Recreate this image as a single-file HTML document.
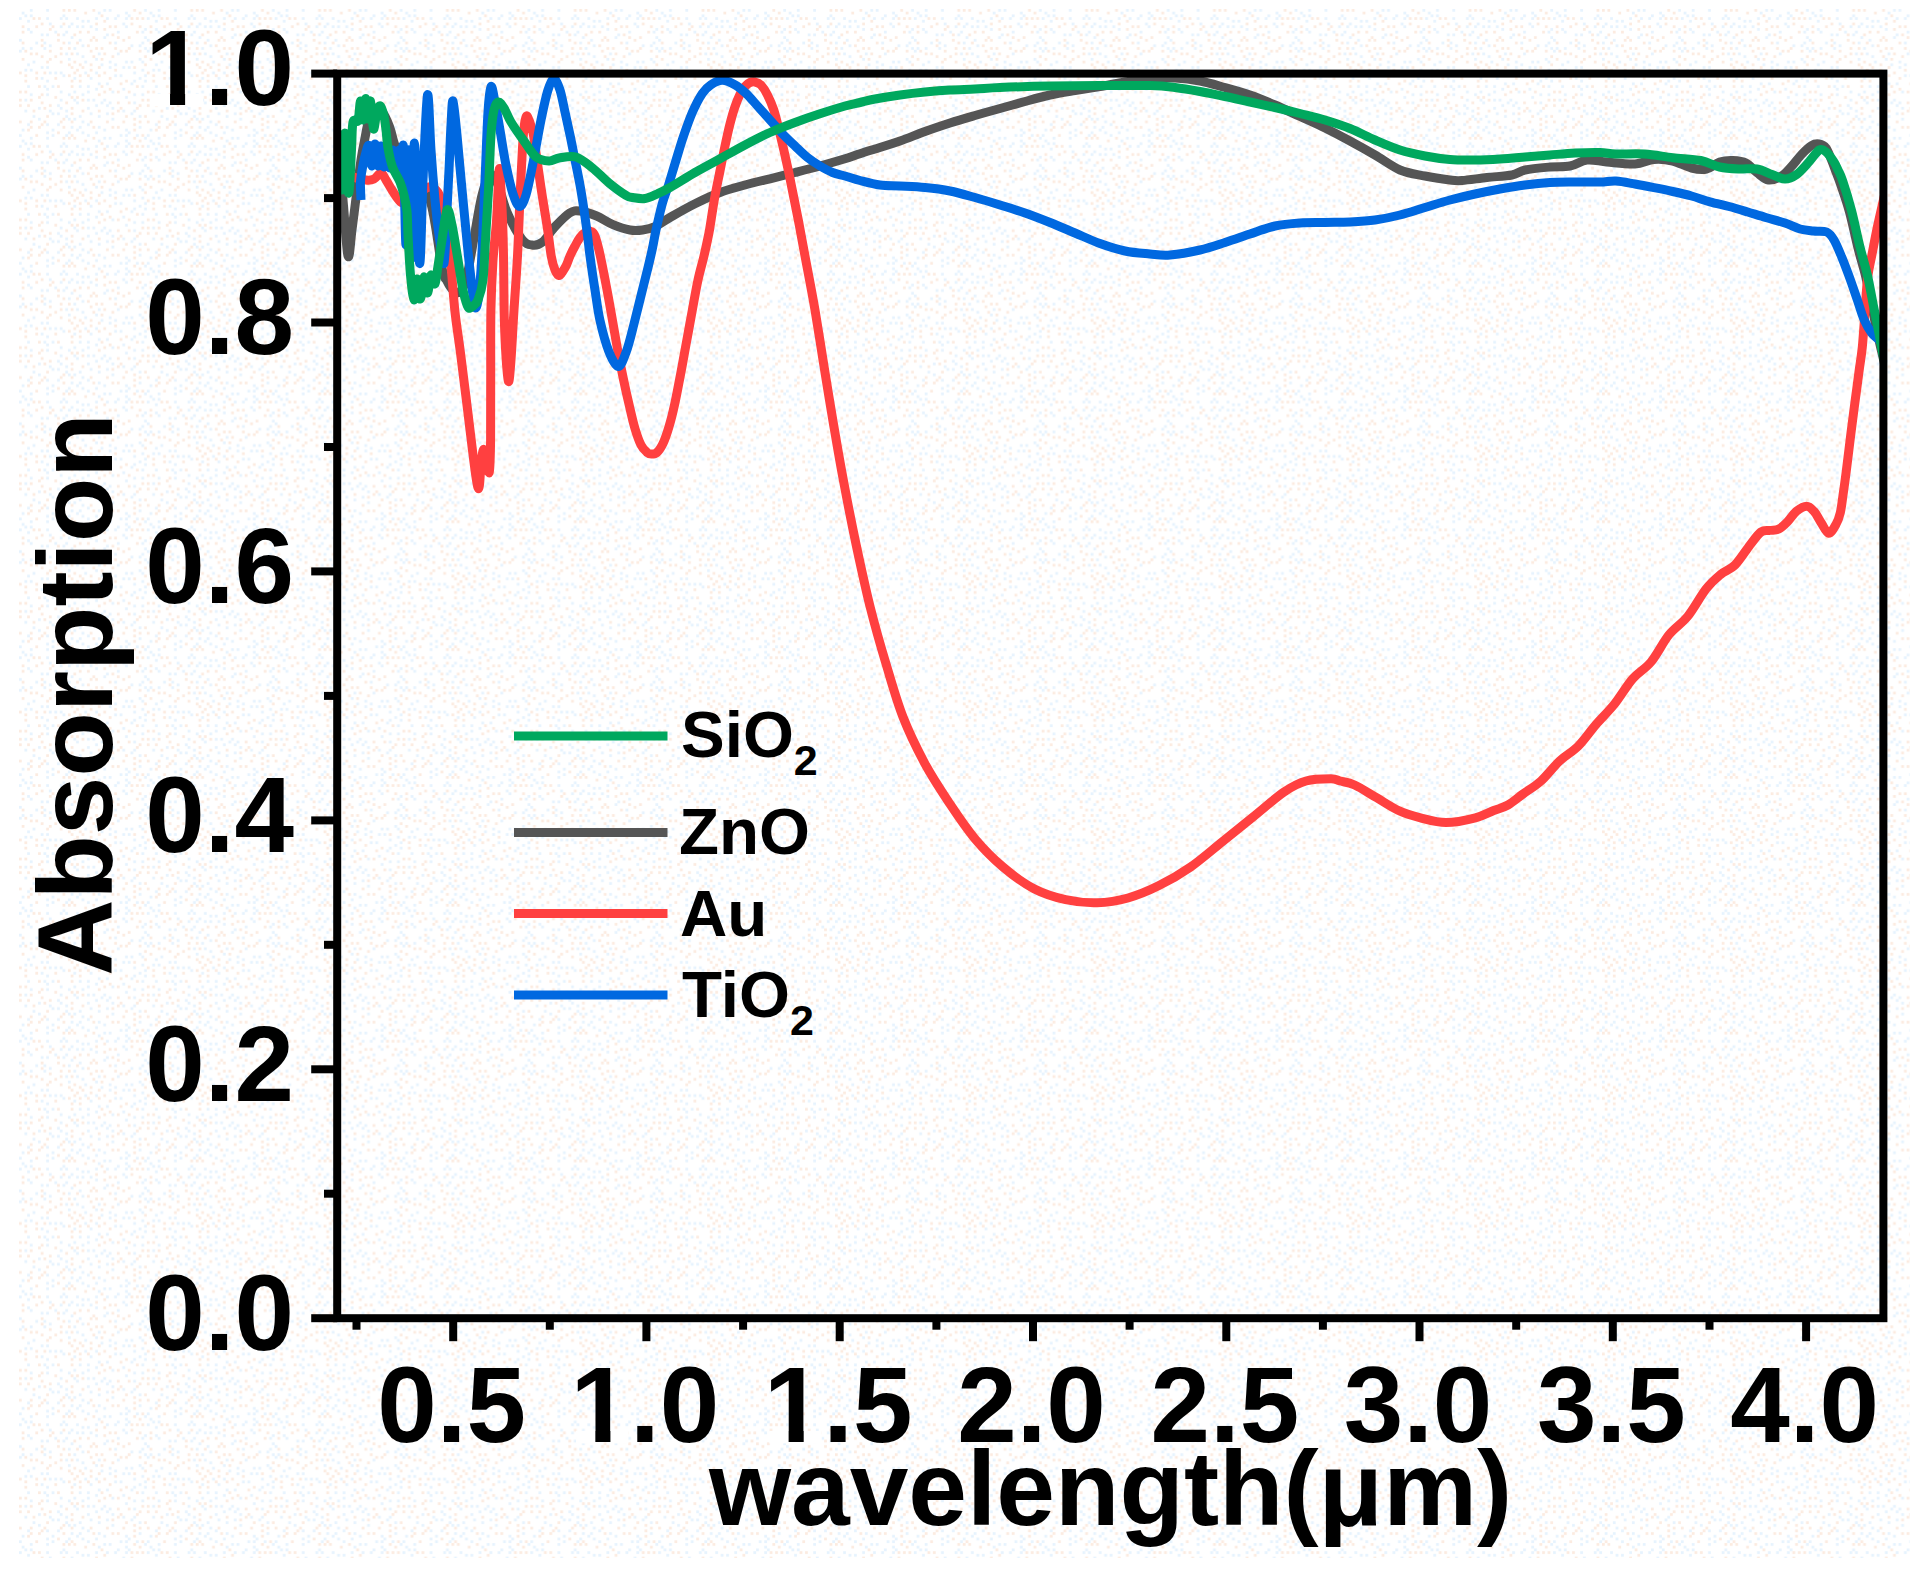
<!DOCTYPE html>
<html lang="en"><head><meta charset="utf-8"><title>Absorption vs wavelength</title>
<style>
html,body{margin:0;padding:0;background:#fff;}
body{width:1920px;height:1571px;overflow:hidden;}
svg{display:block;}
text{font-family:"Liberation Sans",Arial,Helvetica,sans-serif;font-weight:bold;fill:#000;}
.tick{font-size:107px;}
.title{font-size:105.5px;}
.leg{font-size:65.5px;}
.sub{font-size:43px;}
.curve{fill:none;stroke-width:9;stroke-linejoin:round;stroke-linecap:butt;}
</style></head><body>
<svg width="1920" height="1571" viewBox="0 0 1920 1571">
<rect x="0" y="0" width="1920" height="1571" fill="#ffffff"/>
<defs><pattern id="ditherA" patternUnits="userSpaceOnUse" x="19" y="9" width="127.84" height="127.84"><rect width="127.84" height="127.84" fill="#ffffff"/><g fill="#e6f3fe"><rect x="0.00" y="8.16" width="2.72" height="2.72"/><rect x="0.00" y="29.92" width="2.72" height="2.72"/><rect x="0.00" y="40.80" width="2.72" height="2.72"/><rect x="0.00" y="125.12" width="2.72" height="2.72"/><rect x="2.72" y="2.72" width="2.72" height="2.72"/><rect x="2.72" y="38.08" width="2.72" height="2.72"/><rect x="2.72" y="119.68" width="2.72" height="2.72"/><rect x="5.44" y="5.44" width="2.72" height="2.72"/><rect x="5.44" y="59.84" width="2.72" height="2.72"/><rect x="5.44" y="89.76" width="2.72" height="2.72"/><rect x="5.44" y="100.64" width="2.72" height="2.72"/><rect x="8.16" y="10.88" width="2.72" height="2.72"/><rect x="8.16" y="19.04" width="2.72" height="2.72"/><rect x="8.16" y="54.40" width="2.72" height="2.72"/><rect x="8.16" y="76.16" width="2.72" height="2.72"/><rect x="8.16" y="114.24" width="2.72" height="2.72"/><rect x="10.88" y="0.00" width="2.72" height="2.72"/><rect x="10.88" y="5.44" width="2.72" height="2.72"/><rect x="10.88" y="21.76" width="2.72" height="2.72"/><rect x="10.88" y="38.08" width="2.72" height="2.72"/><rect x="10.88" y="59.84" width="2.72" height="2.72"/><rect x="10.88" y="84.32" width="2.72" height="2.72"/><rect x="13.60" y="51.68" width="2.72" height="2.72"/><rect x="13.60" y="106.08" width="2.72" height="2.72"/><rect x="16.32" y="32.64" width="2.72" height="2.72"/><rect x="19.04" y="97.92" width="2.72" height="2.72"/><rect x="19.04" y="108.80" width="2.72" height="2.72"/><rect x="21.76" y="24.48" width="2.72" height="2.72"/><rect x="21.76" y="57.12" width="2.72" height="2.72"/><rect x="21.76" y="68.00" width="2.72" height="2.72"/><rect x="24.48" y="32.64" width="2.72" height="2.72"/><rect x="24.48" y="38.08" width="2.72" height="2.72"/><rect x="24.48" y="76.16" width="2.72" height="2.72"/><rect x="27.20" y="0.00" width="2.72" height="2.72"/><rect x="27.20" y="8.16" width="2.72" height="2.72"/><rect x="27.20" y="24.48" width="2.72" height="2.72"/><rect x="27.20" y="57.12" width="2.72" height="2.72"/><rect x="27.20" y="70.72" width="2.72" height="2.72"/><rect x="27.20" y="78.88" width="2.72" height="2.72"/><rect x="27.20" y="84.32" width="2.72" height="2.72"/><rect x="27.20" y="114.24" width="2.72" height="2.72"/><rect x="27.20" y="122.40" width="2.72" height="2.72"/><rect x="29.92" y="13.60" width="2.72" height="2.72"/><rect x="29.92" y="35.36" width="2.72" height="2.72"/><rect x="29.92" y="62.56" width="2.72" height="2.72"/><rect x="29.92" y="100.64" width="2.72" height="2.72"/><rect x="32.64" y="76.16" width="2.72" height="2.72"/><rect x="32.64" y="103.36" width="2.72" height="2.72"/><rect x="32.64" y="119.68" width="2.72" height="2.72"/><rect x="32.64" y="125.12" width="2.72" height="2.72"/><rect x="35.36" y="21.76" width="2.72" height="2.72"/><rect x="35.36" y="62.56" width="2.72" height="2.72"/><rect x="38.08" y="95.20" width="2.72" height="2.72"/><rect x="38.08" y="103.36" width="2.72" height="2.72"/><rect x="38.08" y="114.24" width="2.72" height="2.72"/><rect x="40.80" y="8.16" width="2.72" height="2.72"/><rect x="40.80" y="16.32" width="2.72" height="2.72"/><rect x="40.80" y="62.56" width="2.72" height="2.72"/><rect x="40.80" y="81.60" width="2.72" height="2.72"/><rect x="40.80" y="89.76" width="2.72" height="2.72"/><rect x="40.80" y="97.92" width="2.72" height="2.72"/><rect x="43.52" y="5.44" width="2.72" height="2.72"/><rect x="43.52" y="24.48" width="2.72" height="2.72"/><rect x="43.52" y="65.28" width="2.72" height="2.72"/><rect x="46.24" y="8.16" width="2.72" height="2.72"/><rect x="46.24" y="21.76" width="2.72" height="2.72"/><rect x="46.24" y="43.52" width="2.72" height="2.72"/><rect x="46.24" y="100.64" width="2.72" height="2.72"/><rect x="46.24" y="106.08" width="2.72" height="2.72"/><rect x="46.24" y="125.12" width="2.72" height="2.72"/><rect x="48.96" y="16.32" width="2.72" height="2.72"/><rect x="48.96" y="32.64" width="2.72" height="2.72"/><rect x="48.96" y="48.96" width="2.72" height="2.72"/><rect x="48.96" y="84.32" width="2.72" height="2.72"/><rect x="48.96" y="108.80" width="2.72" height="2.72"/><rect x="48.96" y="122.40" width="2.72" height="2.72"/><rect x="51.68" y="13.60" width="2.72" height="2.72"/><rect x="51.68" y="27.20" width="2.72" height="2.72"/><rect x="51.68" y="116.96" width="2.72" height="2.72"/><rect x="54.40" y="38.08" width="2.72" height="2.72"/><rect x="54.40" y="68.00" width="2.72" height="2.72"/><rect x="54.40" y="81.60" width="2.72" height="2.72"/><rect x="54.40" y="89.76" width="2.72" height="2.72"/><rect x="54.40" y="108.80" width="2.72" height="2.72"/><rect x="57.12" y="8.16" width="2.72" height="2.72"/><rect x="57.12" y="16.32" width="2.72" height="2.72"/><rect x="57.12" y="43.52" width="2.72" height="2.72"/><rect x="57.12" y="92.48" width="2.72" height="2.72"/><rect x="57.12" y="119.68" width="2.72" height="2.72"/><rect x="59.84" y="29.92" width="2.72" height="2.72"/><rect x="59.84" y="76.16" width="2.72" height="2.72"/><rect x="59.84" y="106.08" width="2.72" height="2.72"/><rect x="59.84" y="116.96" width="2.72" height="2.72"/><rect x="62.56" y="10.88" width="2.72" height="2.72"/><rect x="62.56" y="16.32" width="2.72" height="2.72"/><rect x="62.56" y="35.36" width="2.72" height="2.72"/><rect x="62.56" y="46.24" width="2.72" height="2.72"/><rect x="62.56" y="84.32" width="2.72" height="2.72"/><rect x="62.56" y="111.52" width="2.72" height="2.72"/><rect x="62.56" y="122.40" width="2.72" height="2.72"/><rect x="65.28" y="51.68" width="2.72" height="2.72"/><rect x="65.28" y="62.56" width="2.72" height="2.72"/><rect x="68.00" y="10.88" width="2.72" height="2.72"/><rect x="68.00" y="76.16" width="2.72" height="2.72"/><rect x="68.00" y="81.60" width="2.72" height="2.72"/><rect x="68.00" y="89.76" width="2.72" height="2.72"/><rect x="68.00" y="97.92" width="2.72" height="2.72"/><rect x="68.00" y="114.24" width="2.72" height="2.72"/><rect x="68.00" y="125.12" width="2.72" height="2.72"/><rect x="70.72" y="16.32" width="2.72" height="2.72"/><rect x="70.72" y="68.00" width="2.72" height="2.72"/><rect x="70.72" y="103.36" width="2.72" height="2.72"/><rect x="73.44" y="89.76" width="2.72" height="2.72"/><rect x="76.16" y="8.16" width="2.72" height="2.72"/><rect x="76.16" y="19.04" width="2.72" height="2.72"/><rect x="76.16" y="48.96" width="2.72" height="2.72"/><rect x="76.16" y="62.56" width="2.72" height="2.72"/><rect x="76.16" y="78.88" width="2.72" height="2.72"/><rect x="76.16" y="95.20" width="2.72" height="2.72"/><rect x="76.16" y="122.40" width="2.72" height="2.72"/><rect x="78.88" y="2.72" width="2.72" height="2.72"/><rect x="78.88" y="43.52" width="2.72" height="2.72"/><rect x="78.88" y="73.44" width="2.72" height="2.72"/><rect x="78.88" y="106.08" width="2.72" height="2.72"/><rect x="78.88" y="116.96" width="2.72" height="2.72"/><rect x="81.60" y="54.40" width="2.72" height="2.72"/><rect x="81.60" y="92.48" width="2.72" height="2.72"/><rect x="84.32" y="0.00" width="2.72" height="2.72"/><rect x="84.32" y="27.20" width="2.72" height="2.72"/><rect x="84.32" y="89.76" width="2.72" height="2.72"/><rect x="84.32" y="119.68" width="2.72" height="2.72"/><rect x="87.04" y="8.16" width="2.72" height="2.72"/><rect x="87.04" y="24.48" width="2.72" height="2.72"/><rect x="87.04" y="73.44" width="2.72" height="2.72"/><rect x="87.04" y="95.20" width="2.72" height="2.72"/><rect x="87.04" y="103.36" width="2.72" height="2.72"/><rect x="89.76" y="0.00" width="2.72" height="2.72"/><rect x="89.76" y="51.68" width="2.72" height="2.72"/><rect x="89.76" y="57.12" width="2.72" height="2.72"/><rect x="89.76" y="92.48" width="2.72" height="2.72"/><rect x="92.48" y="81.60" width="2.72" height="2.72"/><rect x="92.48" y="97.92" width="2.72" height="2.72"/><rect x="92.48" y="108.80" width="2.72" height="2.72"/><rect x="95.20" y="8.16" width="2.72" height="2.72"/><rect x="95.20" y="32.64" width="2.72" height="2.72"/><rect x="95.20" y="54.40" width="2.72" height="2.72"/><rect x="95.20" y="65.28" width="2.72" height="2.72"/><rect x="97.92" y="5.44" width="2.72" height="2.72"/><rect x="97.92" y="21.76" width="2.72" height="2.72"/><rect x="97.92" y="43.52" width="2.72" height="2.72"/><rect x="100.64" y="65.28" width="2.72" height="2.72"/><rect x="100.64" y="125.12" width="2.72" height="2.72"/><rect x="103.36" y="13.60" width="2.72" height="2.72"/><rect x="103.36" y="57.12" width="2.72" height="2.72"/><rect x="103.36" y="78.88" width="2.72" height="2.72"/><rect x="103.36" y="100.64" width="2.72" height="2.72"/><rect x="106.08" y="2.72" width="2.72" height="2.72"/><rect x="106.08" y="8.16" width="2.72" height="2.72"/><rect x="106.08" y="16.32" width="2.72" height="2.72"/><rect x="106.08" y="51.68" width="2.72" height="2.72"/><rect x="106.08" y="87.04" width="2.72" height="2.72"/><rect x="106.08" y="119.68" width="2.72" height="2.72"/><rect x="106.08" y="125.12" width="2.72" height="2.72"/><rect x="108.80" y="5.44" width="2.72" height="2.72"/><rect x="108.80" y="57.12" width="2.72" height="2.72"/><rect x="108.80" y="122.40" width="2.72" height="2.72"/><rect x="111.52" y="35.36" width="2.72" height="2.72"/><rect x="111.52" y="51.68" width="2.72" height="2.72"/><rect x="111.52" y="73.44" width="2.72" height="2.72"/><rect x="111.52" y="103.36" width="2.72" height="2.72"/><rect x="114.24" y="62.56" width="2.72" height="2.72"/><rect x="114.24" y="70.72" width="2.72" height="2.72"/><rect x="114.24" y="84.32" width="2.72" height="2.72"/><rect x="114.24" y="92.48" width="2.72" height="2.72"/><rect x="114.24" y="100.64" width="2.72" height="2.72"/><rect x="116.96" y="125.12" width="2.72" height="2.72"/><rect x="119.68" y="35.36" width="2.72" height="2.72"/><rect x="119.68" y="48.96" width="2.72" height="2.72"/><rect x="119.68" y="68.00" width="2.72" height="2.72"/><rect x="119.68" y="106.08" width="2.72" height="2.72"/><rect x="119.68" y="116.96" width="2.72" height="2.72"/><rect x="122.40" y="21.76" width="2.72" height="2.72"/><rect x="122.40" y="32.64" width="2.72" height="2.72"/><rect x="122.40" y="51.68" width="2.72" height="2.72"/><rect x="122.40" y="59.84" width="2.72" height="2.72"/><rect x="122.40" y="76.16" width="2.72" height="2.72"/><rect x="122.40" y="84.32" width="2.72" height="2.72"/><rect x="125.12" y="0.00" width="2.72" height="2.72"/><rect x="125.12" y="19.04" width="2.72" height="2.72"/><rect x="125.12" y="27.20" width="2.72" height="2.72"/><rect x="125.12" y="38.08" width="2.72" height="2.72"/><rect x="125.12" y="65.28" width="2.72" height="2.72"/><rect x="125.12" y="70.72" width="2.72" height="2.72"/></g><g fill="#fcebe0"><rect x="0.00" y="62.56" width="2.72" height="2.72"/><rect x="0.00" y="81.60" width="2.72" height="2.72"/><rect x="0.00" y="89.76" width="2.72" height="2.72"/><rect x="0.00" y="95.20" width="2.72" height="2.72"/><rect x="0.00" y="111.52" width="2.72" height="2.72"/><rect x="2.72" y="16.32" width="2.72" height="2.72"/><rect x="2.72" y="21.76" width="2.72" height="2.72"/><rect x="2.72" y="32.64" width="2.72" height="2.72"/><rect x="2.72" y="48.96" width="2.72" height="2.72"/><rect x="5.44" y="40.80" width="2.72" height="2.72"/><rect x="5.44" y="65.28" width="2.72" height="2.72"/><rect x="5.44" y="70.72" width="2.72" height="2.72"/><rect x="5.44" y="81.60" width="2.72" height="2.72"/><rect x="8.16" y="95.20" width="2.72" height="2.72"/><rect x="8.16" y="119.68" width="2.72" height="2.72"/><rect x="10.88" y="43.52" width="2.72" height="2.72"/><rect x="10.88" y="89.76" width="2.72" height="2.72"/><rect x="10.88" y="111.52" width="2.72" height="2.72"/><rect x="10.88" y="116.96" width="2.72" height="2.72"/><rect x="13.60" y="8.16" width="2.72" height="2.72"/><rect x="13.60" y="100.64" width="2.72" height="2.72"/><rect x="16.32" y="16.32" width="2.72" height="2.72"/><rect x="16.32" y="43.52" width="2.72" height="2.72"/><rect x="16.32" y="62.56" width="2.72" height="2.72"/><rect x="16.32" y="68.00" width="2.72" height="2.72"/><rect x="16.32" y="125.12" width="2.72" height="2.72"/><rect x="19.04" y="8.16" width="2.72" height="2.72"/><rect x="19.04" y="76.16" width="2.72" height="2.72"/><rect x="19.04" y="87.04" width="2.72" height="2.72"/><rect x="19.04" y="116.96" width="2.72" height="2.72"/><rect x="21.76" y="13.60" width="2.72" height="2.72"/><rect x="21.76" y="29.92" width="2.72" height="2.72"/><rect x="21.76" y="35.36" width="2.72" height="2.72"/><rect x="21.76" y="46.24" width="2.72" height="2.72"/><rect x="21.76" y="84.32" width="2.72" height="2.72"/><rect x="21.76" y="92.48" width="2.72" height="2.72"/><rect x="21.76" y="114.24" width="2.72" height="2.72"/><rect x="24.48" y="62.56" width="2.72" height="2.72"/><rect x="24.48" y="97.92" width="2.72" height="2.72"/><rect x="24.48" y="111.52" width="2.72" height="2.72"/><rect x="27.20" y="51.68" width="2.72" height="2.72"/><rect x="27.20" y="106.08" width="2.72" height="2.72"/><rect x="29.92" y="19.04" width="2.72" height="2.72"/><rect x="29.92" y="40.80" width="2.72" height="2.72"/><rect x="29.92" y="48.96" width="2.72" height="2.72"/><rect x="29.92" y="95.20" width="2.72" height="2.72"/><rect x="32.64" y="16.32" width="2.72" height="2.72"/><rect x="35.36" y="46.24" width="2.72" height="2.72"/><rect x="35.36" y="68.00" width="2.72" height="2.72"/><rect x="35.36" y="87.04" width="2.72" height="2.72"/><rect x="38.08" y="24.48" width="2.72" height="2.72"/><rect x="38.08" y="29.92" width="2.72" height="2.72"/><rect x="38.08" y="76.16" width="2.72" height="2.72"/><rect x="38.08" y="122.40" width="2.72" height="2.72"/><rect x="40.80" y="38.08" width="2.72" height="2.72"/><rect x="40.80" y="43.52" width="2.72" height="2.72"/><rect x="40.80" y="51.68" width="2.72" height="2.72"/><rect x="40.80" y="111.52" width="2.72" height="2.72"/><rect x="43.52" y="0.00" width="2.72" height="2.72"/><rect x="43.52" y="13.60" width="2.72" height="2.72"/><rect x="43.52" y="32.64" width="2.72" height="2.72"/><rect x="43.52" y="108.80" width="2.72" height="2.72"/><rect x="43.52" y="116.96" width="2.72" height="2.72"/><rect x="46.24" y="92.48" width="2.72" height="2.72"/><rect x="48.96" y="0.00" width="2.72" height="2.72"/><rect x="48.96" y="38.08" width="2.72" height="2.72"/><rect x="48.96" y="54.40" width="2.72" height="2.72"/><rect x="48.96" y="65.28" width="2.72" height="2.72"/><rect x="51.68" y="43.52" width="2.72" height="2.72"/><rect x="51.68" y="57.12" width="2.72" height="2.72"/><rect x="51.68" y="70.72" width="2.72" height="2.72"/><rect x="51.68" y="76.16" width="2.72" height="2.72"/><rect x="51.68" y="87.04" width="2.72" height="2.72"/><rect x="51.68" y="97.92" width="2.72" height="2.72"/><rect x="51.68" y="103.36" width="2.72" height="2.72"/><rect x="51.68" y="111.52" width="2.72" height="2.72"/><rect x="51.68" y="125.12" width="2.72" height="2.72"/><rect x="54.40" y="0.00" width="2.72" height="2.72"/><rect x="54.40" y="24.48" width="2.72" height="2.72"/><rect x="54.40" y="51.68" width="2.72" height="2.72"/><rect x="54.40" y="62.56" width="2.72" height="2.72"/><rect x="57.12" y="32.64" width="2.72" height="2.72"/><rect x="57.12" y="59.84" width="2.72" height="2.72"/><rect x="57.12" y="87.04" width="2.72" height="2.72"/><rect x="59.84" y="21.76" width="2.72" height="2.72"/><rect x="59.84" y="54.40" width="2.72" height="2.72"/><rect x="59.84" y="65.28" width="2.72" height="2.72"/><rect x="59.84" y="70.72" width="2.72" height="2.72"/><rect x="62.56" y="57.12" width="2.72" height="2.72"/><rect x="62.56" y="89.76" width="2.72" height="2.72"/><rect x="62.56" y="100.64" width="2.72" height="2.72"/><rect x="65.28" y="2.72" width="2.72" height="2.72"/><rect x="68.00" y="21.76" width="2.72" height="2.72"/><rect x="68.00" y="35.36" width="2.72" height="2.72"/><rect x="68.00" y="65.28" width="2.72" height="2.72"/><rect x="70.72" y="29.92" width="2.72" height="2.72"/><rect x="70.72" y="40.80" width="2.72" height="2.72"/><rect x="70.72" y="54.40" width="2.72" height="2.72"/><rect x="70.72" y="59.84" width="2.72" height="2.72"/><rect x="70.72" y="111.52" width="2.72" height="2.72"/><rect x="73.44" y="0.00" width="2.72" height="2.72"/><rect x="73.44" y="27.20" width="2.72" height="2.72"/><rect x="73.44" y="46.24" width="2.72" height="2.72"/><rect x="73.44" y="116.96" width="2.72" height="2.72"/><rect x="76.16" y="13.60" width="2.72" height="2.72"/><rect x="76.16" y="29.92" width="2.72" height="2.72"/><rect x="76.16" y="38.08" width="2.72" height="2.72"/><rect x="78.88" y="57.12" width="2.72" height="2.72"/><rect x="78.88" y="65.28" width="2.72" height="2.72"/><rect x="78.88" y="84.32" width="2.72" height="2.72"/><rect x="78.88" y="100.64" width="2.72" height="2.72"/><rect x="81.60" y="5.44" width="2.72" height="2.72"/><rect x="81.60" y="38.08" width="2.72" height="2.72"/><rect x="81.60" y="48.96" width="2.72" height="2.72"/><rect x="81.60" y="76.16" width="2.72" height="2.72"/><rect x="84.32" y="10.88" width="2.72" height="2.72"/><rect x="84.32" y="19.04" width="2.72" height="2.72"/><rect x="84.32" y="43.52" width="2.72" height="2.72"/><rect x="84.32" y="62.56" width="2.72" height="2.72"/><rect x="84.32" y="81.60" width="2.72" height="2.72"/><rect x="87.04" y="111.52" width="2.72" height="2.72"/><rect x="89.76" y="16.32" width="2.72" height="2.72"/><rect x="89.76" y="32.64" width="2.72" height="2.72"/><rect x="89.76" y="68.00" width="2.72" height="2.72"/><rect x="89.76" y="78.88" width="2.72" height="2.72"/><rect x="92.48" y="24.48" width="2.72" height="2.72"/><rect x="92.48" y="46.24" width="2.72" height="2.72"/><rect x="92.48" y="103.36" width="2.72" height="2.72"/><rect x="92.48" y="116.96" width="2.72" height="2.72"/><rect x="95.20" y="16.32" width="2.72" height="2.72"/><rect x="95.20" y="38.08" width="2.72" height="2.72"/><rect x="95.20" y="59.84" width="2.72" height="2.72"/><rect x="97.92" y="27.20" width="2.72" height="2.72"/><rect x="97.92" y="81.60" width="2.72" height="2.72"/><rect x="97.92" y="92.48" width="2.72" height="2.72"/><rect x="97.92" y="100.64" width="2.72" height="2.72"/><rect x="97.92" y="116.96" width="2.72" height="2.72"/><rect x="100.64" y="40.80" width="2.72" height="2.72"/><rect x="100.64" y="73.44" width="2.72" height="2.72"/><rect x="100.64" y="97.92" width="2.72" height="2.72"/><rect x="103.36" y="29.92" width="2.72" height="2.72"/><rect x="103.36" y="111.52" width="2.72" height="2.72"/><rect x="106.08" y="40.80" width="2.72" height="2.72"/><rect x="106.08" y="70.72" width="2.72" height="2.72"/><rect x="106.08" y="106.08" width="2.72" height="2.72"/><rect x="108.80" y="27.20" width="2.72" height="2.72"/><rect x="108.80" y="38.08" width="2.72" height="2.72"/><rect x="108.80" y="81.60" width="2.72" height="2.72"/><rect x="108.80" y="92.48" width="2.72" height="2.72"/><rect x="111.52" y="8.16" width="2.72" height="2.72"/><rect x="111.52" y="13.60" width="2.72" height="2.72"/><rect x="114.24" y="0.00" width="2.72" height="2.72"/><rect x="114.24" y="57.12" width="2.72" height="2.72"/><rect x="114.24" y="108.80" width="2.72" height="2.72"/><rect x="114.24" y="114.24" width="2.72" height="2.72"/><rect x="114.24" y="119.68" width="2.72" height="2.72"/><rect x="116.96" y="8.16" width="2.72" height="2.72"/><rect x="116.96" y="21.76" width="2.72" height="2.72"/><rect x="116.96" y="76.16" width="2.72" height="2.72"/><rect x="116.96" y="97.92" width="2.72" height="2.72"/><rect x="119.68" y="2.72" width="2.72" height="2.72"/><rect x="119.68" y="16.32" width="2.72" height="2.72"/><rect x="119.68" y="40.80" width="2.72" height="2.72"/><rect x="119.68" y="95.20" width="2.72" height="2.72"/><rect x="119.68" y="111.52" width="2.72" height="2.72"/><rect x="122.40" y="8.16" width="2.72" height="2.72"/><rect x="122.40" y="89.76" width="2.72" height="2.72"/><rect x="122.40" y="125.12" width="2.72" height="2.72"/><rect x="125.12" y="46.24" width="2.72" height="2.72"/><rect x="125.12" y="54.40" width="2.72" height="2.72"/><rect x="125.12" y="106.08" width="2.72" height="2.72"/></g></pattern><clipPath id="plot"><rect x="337.2" y="73.6" width="1546.2" height="1244.6000000000001"/></clipPath></defs>
<rect x="19" y="9" width="1891" height="1549" fill="url(#ditherA)"/>
<g clip-path="url(#plot)">
<path class="curve" stroke="#555555" d="M338.0,150.0 C338.8,158.3 341.3,182.3 343.0,200.0 C344.7,217.7 346.5,251.0 348.0,256.0 C349.5,261.0 350.5,241.0 352.0,230.0 C353.5,219.0 355.5,201.7 357.0,190.0 C358.5,178.3 359.7,168.7 361.0,160.0 C362.3,151.3 363.7,144.7 365.0,138.0 C366.3,131.3 367.3,124.3 369.0,120.0 C370.7,115.7 372.7,113.2 375.0,112.0 C377.3,110.8 380.5,110.3 383.0,113.0 C385.5,115.7 387.8,122.2 390.0,128.0 C392.2,133.8 392.7,141.0 396.0,148.0 C399.3,155.0 404.3,161.3 410.0,170.0 C415.7,178.7 424.7,183.7 430.0,200.0 C435.3,216.3 439.2,254.5 442.0,268.0 C444.8,281.5 445.2,277.3 447.0,281.0 C448.8,284.7 450.8,288.2 453.0,290.0 C455.2,291.8 457.8,293.7 460.0,292.0 C462.2,290.3 464.2,286.2 466.0,280.0 C467.8,273.8 469.7,262.0 471.0,255.0 C472.3,248.0 472.2,248.0 474.0,238.0 C475.8,228.0 479.3,205.5 482.0,195.0 C484.7,184.5 487.3,176.7 490.0,175.0 C492.7,173.3 495.2,178.8 498.0,185.0 C500.8,191.2 503.1,203.0 507.0,212.0 C510.9,221.0 517.5,233.5 521.7,239.0 C525.9,244.5 528.5,244.5 532.0,245.0 C535.5,245.5 538.7,245.1 542.5,242.0 C546.3,238.9 550.5,231.5 555.0,226.7 C559.5,221.9 565.4,215.6 569.6,213.0 C573.8,210.4 575.5,210.5 580.0,211.0 C584.5,211.5 591.2,213.7 596.7,216.0 C602.2,218.3 607.5,222.3 613.0,224.6 C618.5,226.9 625.1,229.1 630.0,230.0 C634.9,230.9 638.3,230.6 642.5,230.0 C646.7,229.4 650.4,228.8 655.0,226.7 C659.6,224.6 663.3,221.3 670.0,217.5 C676.7,213.7 686.7,207.9 695.0,203.8 C703.3,199.6 711.7,195.6 720.0,192.5 C728.3,189.4 736.7,187.3 745.0,185.0 C753.3,182.7 761.7,180.8 770.0,178.8 C778.3,176.7 786.7,174.6 795.0,172.5 C803.3,170.4 811.7,168.3 820.0,166.0 C828.3,163.7 838.3,160.8 845.0,158.8 C851.7,156.7 855.0,155.4 860.0,153.8 C865.0,152.1 868.3,151.1 875.0,149.0 C881.7,146.9 891.7,143.9 900.0,141.0 C908.3,138.1 916.7,134.5 925.0,131.5 C933.3,128.5 941.7,125.7 950.0,123.0 C958.3,120.3 966.7,117.9 975.0,115.5 C983.3,113.1 991.7,110.8 1000.0,108.5 C1008.3,106.2 1016.7,103.8 1025.0,101.5 C1033.3,99.2 1041.7,96.8 1050.0,95.0 C1058.3,93.2 1066.7,91.9 1075.0,90.5 C1083.3,89.1 1091.7,87.9 1100.0,86.5 C1108.3,85.1 1116.7,83.3 1125.0,82.0 C1133.3,80.7 1141.7,79.2 1150.0,78.5 C1158.3,77.8 1166.7,77.6 1175.0,78.0 C1183.3,78.4 1191.7,79.4 1200.0,81.0 C1208.3,82.6 1216.7,85.2 1225.0,87.5 C1233.3,89.8 1241.7,92.1 1250.0,95.0 C1258.3,97.9 1266.7,101.4 1275.0,105.0 C1283.3,108.6 1291.7,112.7 1300.0,116.5 C1308.3,120.3 1316.7,123.9 1325.0,128.0 C1333.3,132.1 1341.7,136.5 1350.0,141.0 C1358.3,145.5 1366.7,150.2 1375.0,155.0 C1383.3,159.8 1391.7,166.5 1400.0,170.0 C1408.3,173.5 1416.7,174.3 1425.0,176.0 C1433.3,177.7 1443.8,179.2 1450.0,180.0 C1456.2,180.8 1455.8,180.9 1462.0,180.5 C1468.2,180.1 1478.7,178.4 1487.0,177.5 C1495.3,176.6 1505.7,176.2 1512.0,175.0 C1518.3,173.8 1518.7,171.3 1525.0,170.0 C1531.3,168.7 1542.5,167.7 1550.0,167.0 C1557.5,166.3 1563.8,167.2 1570.0,166.0 C1576.2,164.8 1580.8,160.7 1587.0,160.0 C1593.2,159.3 1599.0,161.3 1607.0,162.0 C1615.0,162.7 1627.2,164.4 1635.0,164.0 C1642.8,163.6 1647.7,160.0 1654.0,159.5 C1660.3,159.0 1666.5,159.6 1672.7,161.0 C1679.0,162.4 1685.9,166.7 1691.5,168.0 C1697.1,169.3 1701.8,170.0 1706.5,169.0 C1711.2,168.0 1715.2,163.4 1719.6,162.0 C1724.0,160.6 1728.4,160.3 1732.8,160.5 C1737.2,160.7 1742.0,161.0 1746.0,163.0 C1750.0,165.0 1753.2,169.9 1757.0,172.7 C1760.8,175.5 1764.4,179.4 1768.5,180.0 C1772.6,180.6 1777.8,178.2 1781.6,176.0 C1785.3,173.8 1787.6,170.7 1791.0,167.0 C1794.4,163.3 1798.6,157.6 1802.0,154.0 C1805.4,150.4 1808.8,147.2 1811.6,145.5 C1814.4,143.8 1816.6,143.6 1819.0,144.0 C1821.4,144.4 1823.9,145.3 1826.0,148.0 C1828.1,150.7 1829.8,156.0 1831.5,160.0 C1833.2,164.0 1834.5,168.0 1836.0,172.0 C1837.5,176.0 1838.2,177.3 1840.5,184.0 C1842.8,190.7 1846.6,201.3 1849.5,212.0 C1852.4,222.7 1855.3,237.2 1858.0,248.0 C1860.7,258.8 1863.5,267.3 1865.8,277.0 C1868.1,286.7 1869.8,296.3 1871.8,306.0 C1873.8,315.7 1875.4,324.3 1877.8,335.0 C1880.2,345.7 1884.6,364.2 1886.0,370.0"/>
<path class="curve" stroke="#ff4040" d="M338.0,169.0 C340.0,170.2 345.3,174.2 350.0,176.0 C354.7,177.8 362.0,179.5 366.0,180.0 C370.0,180.5 371.5,180.2 374.0,179.0 C376.5,177.8 379.0,172.8 381.0,173.0 C383.0,173.2 384.2,177.2 386.0,180.0 C387.8,182.8 390.0,186.8 392.0,190.0 C394.0,193.2 396.0,196.8 398.0,199.0 C400.0,201.2 401.2,203.7 404.0,203.0 C406.8,202.3 410.8,197.7 415.0,195.0 C419.2,192.3 425.5,187.8 429.0,187.0 C432.5,186.2 434.0,187.8 436.0,190.0 C438.0,192.2 439.5,193.3 441.0,200.0 C442.5,206.7 443.5,220.7 445.0,230.0 C446.5,239.3 448.3,242.3 450.0,256.0 C451.7,269.7 453.2,295.8 455.0,312.0 C456.8,328.2 458.4,336.4 460.5,353.0 C462.6,369.6 465.4,392.3 467.8,411.8 C470.2,431.3 473.2,457.2 475.0,470.0 C476.8,482.8 477.8,489.3 478.8,488.5 C479.8,487.7 480.2,471.5 481.0,465.0 C481.8,458.5 482.6,450.0 483.5,449.5 C484.4,449.0 485.5,458.2 486.5,462.0 C487.5,465.8 488.6,475.7 489.3,472.0 C490.0,468.3 490.4,455.3 490.6,440.0 C490.8,424.7 490.6,401.7 490.7,380.0 C490.8,358.3 490.5,329.7 490.9,310.0 C491.3,290.3 492.0,276.8 492.9,262.0 C493.8,247.2 495.6,233.8 496.5,221.0 C497.4,208.2 497.8,193.8 498.3,185.0 C498.8,176.2 498.9,168.8 499.3,168.5 C499.7,168.2 500.1,174.2 500.6,183.0 C501.2,191.8 502.1,207.8 502.6,221.0 C503.1,234.2 503.4,247.2 503.6,262.0 C503.9,276.8 503.8,295.3 504.1,310.0 C504.4,324.7 504.9,338.1 505.6,350.0 C506.3,361.9 507.5,379.8 508.4,381.5 C509.3,383.2 510.1,371.9 511.0,360.0 C511.9,348.1 512.9,327.3 514.0,310.0 C515.1,292.7 516.5,274.8 517.5,256.0 C518.5,237.2 519.2,215.6 520.0,197.5 C520.8,179.4 521.8,159.8 522.5,147.5 C523.2,135.2 523.8,129.2 524.5,124.0 C525.2,118.8 525.8,116.7 526.5,116.0 C527.2,115.3 528.2,118.3 529.0,120.0 C529.8,121.7 530.2,123.2 531.0,126.0 C531.8,128.8 532.5,129.2 533.8,137.0 C535.0,144.8 537.3,162.4 538.8,172.5 C540.2,182.6 541.0,188.1 542.5,197.5 C544.0,206.9 546.0,219.0 547.5,228.8 C549.0,238.5 550.0,249.1 551.2,256.0 C552.5,262.9 553.7,266.8 555.0,270.0 C556.3,273.2 557.7,275.3 559.0,275.5 C560.3,275.7 561.8,272.8 563.0,271.0 C564.2,269.2 565.3,267.5 566.5,265.0 C567.7,262.5 568.6,259.2 570.0,256.0 C571.4,252.8 573.3,249.1 575.0,246.0 C576.7,242.9 578.2,239.8 580.0,237.5 C581.8,235.2 584.2,233.0 586.0,232.0 C587.8,231.0 589.5,230.8 591.0,231.5 C592.5,232.2 593.5,232.2 595.0,236.0 C596.5,239.8 598.2,246.6 600.0,254.6 C601.8,262.6 603.9,273.8 605.9,284.0 C607.9,294.2 609.8,305.0 611.7,316.0 C613.7,327.0 615.7,339.3 617.6,349.8 C619.5,360.3 621.5,369.7 623.4,379.0 C625.3,388.3 627.3,397.2 629.3,405.5 C631.2,413.8 633.1,422.4 635.1,429.0 C637.1,435.6 639.0,441.1 641.0,445.0 C643.0,448.9 645.2,450.8 646.9,452.3 C648.6,453.8 649.6,454.0 651.3,454.0 C653.0,454.0 655.1,454.1 657.1,452.3 C659.1,450.6 661.0,447.6 663.0,443.5 C665.0,439.4 666.8,434.0 668.8,427.4 C670.8,420.8 672.8,412.8 674.7,404.0 C676.7,395.2 678.5,384.9 680.5,374.7 C682.5,364.4 684.4,353.2 686.4,342.5 C688.4,331.8 690.3,320.8 692.3,310.3 C694.2,299.8 696.2,288.2 698.1,279.5 C700.0,270.8 701.9,264.6 703.5,258.0 C705.1,251.4 706.5,245.0 707.5,240.0 C708.5,235.0 708.6,235.4 709.8,228.2 C711.0,221.0 713.1,206.4 714.8,197.0 C716.5,187.6 718.1,180.3 719.8,172.0 C721.5,163.7 723.1,154.9 724.8,147.0 C726.5,139.1 728.1,131.2 729.8,124.6 C731.5,118.0 733.1,112.2 734.8,107.2 C736.5,102.2 738.1,98.2 739.8,94.7 C741.5,91.2 743.3,88.5 745.0,86.5 C746.7,84.5 748.3,83.2 750.0,82.5 C751.7,81.8 753.2,81.6 755.0,82.0 C756.8,82.4 758.9,82.8 761.0,85.0 C763.1,87.2 765.4,90.8 767.5,95.0 C769.6,99.2 771.9,104.4 773.8,110.0 C775.6,115.6 777.1,122.1 778.8,128.8 C780.4,135.4 782.1,142.7 783.8,150.0 C785.4,157.3 787.1,164.6 788.8,172.5 C790.4,180.4 792.1,189.2 793.8,197.5 C795.4,205.8 796.9,212.8 798.8,222.5 C800.6,232.2 802.3,241.4 805.0,256.0 C807.7,270.6 811.7,290.6 815.0,310.0 C818.3,329.4 822.0,354.2 825.0,372.5 C828.0,390.8 829.7,401.7 832.8,420.0 C835.9,438.3 839.8,461.7 843.8,482.5 C847.7,503.3 851.8,524.2 856.2,545.0 C860.7,565.8 865.3,587.7 870.3,607.5 C875.3,627.3 880.5,645.5 886.0,663.8 C891.5,682.0 896.5,700.3 903.0,717.0 C909.5,733.7 917.2,749.2 925.0,763.8 C932.8,778.2 941.7,791.5 950.0,804.0 C958.3,816.5 966.2,828.2 975.0,838.8 C983.8,849.2 993.2,858.7 1003.0,867.0 C1012.8,875.3 1023.6,883.3 1034.0,888.8 C1044.4,894.2 1055.1,897.4 1065.6,899.7 C1076.1,902.0 1086.6,903.1 1097.0,902.8 C1107.4,902.5 1117.7,900.9 1128.0,898.0 C1138.3,895.1 1148.6,890.8 1159.0,885.6 C1169.4,880.4 1180.1,874.3 1190.6,867.0 C1201.1,859.7 1211.6,850.3 1222.0,842.0 C1232.4,833.7 1242.7,825.3 1253.0,817.0 C1263.3,808.7 1275.2,798.0 1284.0,792.0 C1292.8,786.0 1298.2,783.2 1306.0,781.0 C1313.8,778.8 1325.3,778.8 1331.0,778.8 C1336.7,778.8 1336.1,780.0 1340.0,781.0 C1343.9,782.0 1348.5,782.2 1354.6,785.0 C1360.7,787.8 1369.3,793.5 1376.6,797.7 C1383.9,802.0 1391.2,807.1 1398.5,810.5 C1405.8,813.9 1412.6,815.8 1420.5,817.8 C1428.4,819.8 1436.8,822.5 1446.0,822.5 C1455.2,822.5 1467.5,819.8 1475.4,817.8 C1483.4,815.8 1488.3,812.6 1493.7,810.5 C1499.1,808.4 1503.1,807.8 1508.0,805.0 C1512.9,802.2 1517.5,798.0 1523.0,794.0 C1528.5,790.0 1534.9,786.5 1541.0,781.0 C1547.1,775.5 1553.4,766.8 1559.6,761.0 C1565.8,755.2 1571.9,752.5 1578.0,746.4 C1584.1,740.3 1589.9,731.6 1596.0,724.5 C1602.1,717.4 1608.4,711.6 1614.5,704.0 C1620.6,696.4 1626.6,685.7 1632.7,678.7 C1638.8,671.7 1645.0,669.3 1651.0,662.0 C1657.0,654.7 1662.9,642.4 1669.0,634.8 C1675.1,627.2 1681.4,624.1 1687.6,616.5 C1693.8,608.9 1700.5,596.0 1706.0,589.0 C1711.5,582.0 1715.8,578.5 1720.6,574.5 C1725.4,570.5 1730.1,569.9 1735.0,565.0 C1739.9,560.1 1745.7,550.5 1750.0,545.0 C1754.3,539.5 1757.7,534.4 1761.0,532.0 C1764.3,529.6 1767.0,530.9 1770.0,530.4 C1773.0,529.9 1775.9,530.5 1778.8,529.0 C1781.7,527.5 1784.7,524.6 1787.6,521.6 C1790.5,518.6 1793.2,513.9 1796.4,511.3 C1799.6,508.7 1803.7,506.2 1806.6,506.2 C1809.5,506.2 1811.5,508.5 1814.0,511.3 C1816.5,514.1 1818.9,519.3 1821.3,523.0 C1823.7,526.7 1826.2,533.0 1828.6,533.3 C1831.0,533.5 1834.0,527.9 1835.9,524.5 C1837.9,521.1 1839.1,517.9 1840.3,512.8 C1841.5,507.7 1842.2,500.6 1843.2,493.8 C1844.2,487.0 1845.1,480.4 1846.2,471.8 C1847.3,463.2 1848.6,452.3 1849.8,442.5 C1851.0,432.7 1852.4,421.7 1853.5,413.2 C1854.6,404.7 1855.4,398.6 1856.4,391.3 C1857.4,384.0 1858.3,376.6 1859.3,369.3 C1860.3,362.0 1861.3,356.9 1862.3,347.3 C1863.2,337.8 1864.1,323.6 1865.0,312.0 C1865.9,300.4 1866.4,287.6 1867.6,278.0 C1868.8,268.4 1870.3,263.2 1872.0,254.4 C1873.7,245.6 1875.8,234.3 1877.8,225.0 C1879.8,215.7 1882.3,205.0 1883.7,198.8 C1885.1,192.6 1885.6,189.8 1886.0,188.0"/>
<path class="curve" stroke="#0068e0" d="M361.0,200.0 C360.9,197.0 360.2,187.8 360.5,182.0 C360.8,176.2 362.1,170.0 363.0,165.0 C363.9,160.0 365.0,155.2 366.0,152.0 C367.0,148.8 368.0,143.7 369.0,146.0 C370.0,148.3 371.0,166.3 372.0,166.0 C373.0,165.7 374.0,144.0 375.0,144.0 C376.0,144.0 377.0,165.7 378.0,166.0 C379.0,166.3 380.0,145.8 381.0,146.0 C382.0,146.2 383.0,166.7 384.0,167.0 C385.0,167.3 386.0,147.8 387.0,148.0 C388.0,148.2 389.0,167.7 390.0,168.0 C391.0,168.3 392.0,150.0 393.0,150.0 C394.0,150.0 395.0,168.0 396.0,168.0 C397.0,168.0 398.1,150.0 399.0,150.0 C399.9,150.0 400.8,168.3 401.5,168.0 C402.2,167.7 402.8,135.2 403.5,148.0 C404.2,160.8 405.1,244.7 406.0,245.0 C406.9,245.3 408.0,147.8 409.0,150.0 C410.0,152.2 411.1,259.2 412.0,258.0 C412.9,256.8 413.2,142.2 414.5,143.0 C415.8,143.8 418.1,256.8 419.5,263.0 C420.9,269.2 421.7,208.0 423.0,180.0 C424.3,152.0 426.2,100.0 427.5,95.0 C428.8,90.0 429.8,132.5 431.0,150.0 C432.2,167.5 433.7,185.8 435.0,200.0 C436.3,214.2 437.5,224.4 439.0,235.0 C440.5,245.6 442.8,266.0 444.0,263.5 C445.2,261.0 445.7,235.6 446.5,220.0 C447.3,204.4 448.2,185.8 449.0,170.0 C449.8,154.2 450.3,136.5 451.0,125.0 C451.7,113.5 452.0,99.3 453.0,101.0 C454.0,102.7 455.3,118.5 457.0,135.0 C458.7,151.5 460.8,177.5 463.0,200.0 C465.2,222.5 467.9,252.0 470.0,270.0 C472.1,288.0 474.0,308.0 475.8,308.0 C477.6,308.0 479.5,291.3 481.0,270.0 C482.5,248.7 483.8,206.3 485.0,180.0 C486.2,153.7 487.0,127.6 488.0,112.0 C489.0,96.4 489.8,88.2 491.0,86.5 C492.2,84.8 493.5,94.8 495.0,102.0 C496.5,109.2 498.2,119.5 500.0,130.0 C501.8,140.5 503.8,154.3 506.0,165.0 C508.2,175.7 510.7,187.1 513.0,194.0 C515.3,200.9 517.4,206.3 519.6,206.5 C521.8,206.7 523.8,202.2 526.0,195.0 C528.2,187.8 530.5,175.5 533.0,163.0 C535.5,150.5 538.5,132.2 541.0,120.0 C543.5,107.8 545.8,96.8 548.0,90.0 C550.2,83.2 552.0,79.0 554.0,79.0 C556.0,79.0 558.2,84.5 560.0,90.0 C561.8,95.5 563.3,104.5 565.0,112.0 C566.7,119.5 568.3,127.0 570.0,135.0 C571.7,143.0 573.3,151.7 575.0,160.0 C576.7,168.3 578.5,176.7 580.0,185.0 C581.5,193.3 582.8,201.7 584.0,210.0 C585.2,218.3 586.5,227.3 587.5,235.0 C588.5,242.7 588.8,246.8 590.0,256.0 C591.2,265.2 593.3,279.2 595.0,290.0 C596.7,300.8 597.7,310.3 600.0,320.5 C602.3,330.7 605.8,343.6 608.8,351.3 C611.8,359.0 615.4,366.5 618.3,366.5 C621.2,366.5 623.8,358.2 626.4,351.3 C629.0,344.4 631.3,334.3 633.7,325.0 C636.1,315.7 638.6,305.4 641.0,295.6 C643.4,285.8 646.4,274.3 648.3,266.4 C650.2,258.5 651.2,254.2 652.5,248.0 C653.8,241.8 654.6,236.5 656.2,229.0 C657.9,221.5 660.3,210.6 662.4,203.2 C664.5,195.8 666.4,191.8 668.7,184.5 C671.0,177.2 673.7,167.7 676.2,159.6 C678.7,151.5 680.9,143.8 683.6,135.9 C686.3,128.0 689.3,119.3 692.4,112.2 C695.5,105.1 699.2,98.0 702.3,93.4 C705.4,88.8 707.7,86.9 711.0,84.7 C714.3,82.5 718.3,80.3 722.3,80.3 C726.3,80.3 730.8,82.5 734.8,84.7 C738.8,86.9 742.2,89.9 746.0,93.4 C749.8,97.0 753.5,101.6 757.5,106.0 C761.5,110.4 765.8,115.4 770.0,120.0 C774.2,124.6 778.3,129.4 782.5,133.8 C786.7,138.1 790.8,142.0 795.0,146.0 C799.2,150.0 803.3,154.2 807.5,157.5 C811.7,160.8 815.8,163.5 820.0,166.0 C824.2,168.5 828.3,170.8 832.5,172.5 C836.7,174.2 840.4,174.7 845.0,176.0 C849.6,177.3 854.2,179.0 860.0,180.5 C865.8,182.0 873.3,184.1 880.0,185.0 C886.7,185.9 892.5,185.6 900.0,186.0 C907.5,186.4 916.7,186.7 925.0,187.5 C933.3,188.3 941.7,189.3 950.0,191.0 C958.3,192.7 966.7,195.2 975.0,197.5 C983.3,199.8 991.7,202.4 1000.0,205.0 C1008.3,207.6 1016.7,210.1 1025.0,213.0 C1033.3,215.9 1041.7,219.2 1050.0,222.5 C1058.3,225.8 1066.7,229.5 1075.0,233.0 C1083.3,236.5 1091.7,240.5 1100.0,243.5 C1108.3,246.5 1116.7,249.2 1125.0,251.0 C1133.3,252.8 1142.5,253.3 1150.0,254.0 C1157.5,254.7 1161.7,255.7 1170.0,255.0 C1178.3,254.3 1190.8,252.1 1200.0,250.0 C1209.2,247.9 1216.7,245.2 1225.0,242.5 C1233.3,239.8 1241.7,236.8 1250.0,234.0 C1258.3,231.2 1266.7,227.8 1275.0,226.0 C1283.3,224.2 1291.7,223.6 1300.0,223.0 C1308.3,222.4 1316.7,222.7 1325.0,222.5 C1333.3,222.3 1341.7,222.4 1350.0,222.0 C1358.3,221.6 1366.7,221.2 1375.0,220.0 C1383.3,218.8 1391.7,217.1 1400.0,215.0 C1408.3,212.9 1416.7,210.0 1425.0,207.5 C1433.3,205.0 1441.7,202.2 1450.0,200.0 C1458.3,197.8 1466.7,195.8 1475.0,194.0 C1483.3,192.2 1491.7,190.5 1500.0,189.0 C1508.3,187.5 1516.7,186.1 1525.0,185.0 C1533.3,183.9 1541.7,183.0 1550.0,182.5 C1558.3,182.0 1566.7,182.1 1575.0,182.0 C1583.3,181.9 1593.2,182.2 1600.0,182.0 C1606.8,181.8 1610.2,180.7 1616.0,181.0 C1621.8,181.3 1628.7,182.9 1635.0,184.0 C1641.3,185.1 1647.7,186.4 1654.0,187.7 C1660.3,188.9 1666.5,190.1 1672.7,191.5 C1679.0,192.9 1685.3,194.3 1691.5,196.0 C1697.7,197.7 1703.8,200.1 1710.0,201.8 C1716.2,203.6 1722.7,204.8 1729.0,206.5 C1735.3,208.2 1741.5,210.1 1747.8,212.0 C1754.1,213.9 1760.4,215.9 1766.6,217.7 C1772.8,219.5 1779.4,221.1 1785.0,223.0 C1790.6,224.9 1795.2,227.7 1800.0,229.0 C1804.8,230.3 1809.0,230.5 1813.5,231.0 C1818.0,231.5 1823.3,230.5 1826.7,232.0 C1830.1,233.5 1831.5,235.8 1834.0,240.0 C1836.5,244.2 1839.2,251.0 1841.7,257.0 C1844.2,263.0 1846.5,269.2 1849.0,276.0 C1851.5,282.8 1854.2,290.8 1856.7,298.0 C1859.2,305.2 1861.5,313.7 1864.0,319.5 C1866.5,325.3 1869.2,329.6 1871.7,333.0 C1874.2,336.4 1876.8,337.8 1879.0,340.0 C1881.2,342.2 1884.0,345.0 1885.0,346.0"/>
<path class="curve" stroke="#00a85e" d="M338.0,139.0 C338.3,138.8 339.3,129.5 340.0,138.0 C340.7,146.5 341.2,190.8 342.0,190.0 C342.8,189.2 343.9,132.5 345.0,133.0 C346.1,133.5 347.4,190.2 348.5,193.0 C349.6,195.8 350.8,161.8 351.5,150.0 C352.2,138.2 351.9,126.9 353.0,122.0 C354.1,117.1 356.8,124.0 358.0,120.5 C359.2,117.0 359.7,101.1 360.5,101.0 C361.3,100.9 362.2,120.4 363.0,120.0 C363.8,119.6 364.7,98.7 365.5,98.5 C366.3,98.3 367.2,118.6 368.0,119.0 C368.8,119.4 369.6,99.3 370.5,101.0 C371.4,102.7 372.4,127.3 373.5,129.0 C374.6,130.7 375.8,114.8 377.0,111.0 C378.2,107.2 379.3,105.2 380.5,106.0 C381.7,106.8 383.1,112.0 384.0,116.0 C384.9,120.0 385.3,124.7 386.0,130.0 C386.7,135.3 386.9,141.8 388.0,148.0 C389.1,154.2 390.5,161.3 392.5,167.0 C394.5,172.7 398.1,177.3 400.0,182.0 C401.9,186.7 402.8,190.2 404.0,195.0 C405.2,199.8 406.3,204.3 407.0,211.0 C407.7,217.7 407.4,224.3 408.0,235.0 C408.6,245.7 409.5,264.2 410.5,275.0 C411.5,285.8 412.9,299.3 414.0,300.0 C415.1,300.7 415.9,279.2 417.0,279.0 C418.1,278.8 419.3,299.3 420.5,299.0 C421.7,298.7 422.8,278.0 424.0,277.0 C425.2,276.0 426.3,293.3 427.5,293.0 C428.7,292.7 429.8,276.5 431.0,275.0 C432.2,273.5 433.8,285.5 435.0,284.0 C436.2,282.5 436.8,273.3 438.0,266.0 C439.2,258.7 440.5,249.3 442.0,240.0 C443.5,230.7 445.3,212.5 447.0,210.0 C448.7,207.5 450.2,216.7 452.0,225.0 C453.8,233.3 456.2,249.2 458.0,260.0 C459.8,270.8 461.3,282.2 463.0,290.0 C464.7,297.8 466.3,304.3 468.0,307.0 C469.7,309.7 471.3,307.2 473.0,306.0 C474.7,304.8 476.3,304.3 478.0,300.0 C479.7,295.7 481.8,290.0 483.0,280.0 C484.2,270.0 484.6,255.0 485.5,240.0 C486.4,225.0 487.6,207.5 488.5,190.0 C489.4,172.5 490.1,148.3 491.0,135.0 C491.9,121.7 492.8,115.5 494.0,110.0 C495.2,104.5 496.8,102.3 498.5,102.0 C500.2,101.7 501.9,104.7 504.0,108.0 C506.1,111.3 507.7,116.5 511.0,122.0 C514.3,127.5 519.8,135.2 524.0,141.0 C528.2,146.8 531.8,153.7 536.0,157.0 C540.2,160.3 545.2,160.8 549.0,161.0 C552.8,161.2 554.5,158.7 559.0,158.0 C563.5,157.3 570.4,155.3 576.0,157.0 C581.6,158.7 587.0,163.7 592.5,168.0 C598.0,172.3 603.4,178.4 609.0,183.0 C614.6,187.6 622.1,193.0 626.0,195.4 C629.9,197.8 629.3,197.0 632.5,197.5 C635.7,198.0 640.8,199.1 645.0,198.5 C649.2,197.9 653.3,195.6 657.5,193.8 C661.7,191.9 663.8,191.0 670.0,187.5 C676.2,184.0 686.7,177.3 695.0,172.5 C703.3,167.7 711.7,163.3 720.0,158.8 C728.3,154.2 736.7,149.4 745.0,145.0 C753.3,140.6 761.7,136.2 770.0,132.5 C778.3,128.8 786.7,125.6 795.0,122.5 C803.3,119.4 811.7,116.5 820.0,113.8 C828.3,111.0 838.3,107.9 845.0,106.0 C851.7,104.1 855.0,103.7 860.0,102.5 C865.0,101.3 868.3,100.2 875.0,99.0 C881.7,97.8 891.7,96.2 900.0,95.0 C908.3,93.8 916.7,92.8 925.0,92.0 C933.3,91.2 941.7,90.5 950.0,90.0 C958.3,89.5 966.7,89.4 975.0,89.0 C983.3,88.6 987.5,88.0 1000.0,87.5 C1012.5,87.0 1033.3,86.3 1050.0,86.0 C1066.7,85.7 1083.3,85.6 1100.0,85.5 C1116.7,85.4 1137.5,85.3 1150.0,85.6 C1162.5,85.9 1166.7,86.5 1175.0,87.5 C1183.3,88.5 1191.7,90.0 1200.0,91.5 C1208.3,93.0 1216.7,94.8 1225.0,96.5 C1233.3,98.2 1241.7,100.2 1250.0,102.0 C1258.3,103.8 1266.7,105.6 1275.0,107.5 C1283.3,109.4 1291.7,111.4 1300.0,113.5 C1308.3,115.6 1316.7,117.5 1325.0,120.0 C1333.3,122.5 1341.7,125.2 1350.0,128.5 C1358.3,131.8 1366.7,136.4 1375.0,140.0 C1383.3,143.6 1391.7,147.3 1400.0,150.0 C1408.3,152.7 1416.7,154.4 1425.0,156.0 C1433.3,157.6 1441.7,158.8 1450.0,159.5 C1458.3,160.2 1466.7,160.1 1475.0,160.0 C1483.3,159.9 1491.7,159.5 1500.0,159.0 C1508.3,158.5 1516.7,157.7 1525.0,157.0 C1533.3,156.3 1541.7,155.7 1550.0,155.0 C1558.3,154.3 1566.7,153.4 1575.0,153.0 C1583.3,152.6 1593.2,152.3 1600.0,152.5 C1606.8,152.7 1608.6,153.8 1616.0,154.0 C1623.4,154.2 1635.0,153.4 1644.5,154.0 C1654.0,154.6 1663.3,156.6 1672.7,157.7 C1682.1,158.8 1693.0,158.9 1700.8,160.5 C1708.6,162.1 1713.3,165.6 1719.6,167.0 C1725.9,168.4 1732.2,168.7 1738.4,169.0 C1744.6,169.3 1751.4,168.1 1757.0,169.0 C1762.6,169.9 1767.3,172.8 1772.0,174.5 C1776.7,176.2 1780.9,179.0 1785.0,179.0 C1789.1,179.0 1792.8,177.2 1796.6,174.5 C1800.4,171.8 1804.2,167.1 1808.0,163.0 C1811.8,158.9 1816.2,151.8 1819.3,150.0 C1822.4,148.2 1824.2,150.5 1826.7,152.5 C1829.2,154.5 1832.1,159.1 1834.0,162.0 C1835.9,164.9 1836.5,166.8 1838.0,170.0 C1839.5,173.2 1840.5,174.2 1842.7,181.0 C1845.0,187.8 1848.6,199.5 1851.5,210.5 C1854.4,221.5 1857.3,236.1 1860.0,247.0 C1862.7,257.9 1865.4,266.2 1867.6,276.0 C1869.8,285.8 1871.5,295.8 1873.4,305.6 C1875.4,315.4 1877.9,327.7 1879.3,335.0 C1880.7,342.3 1880.9,344.0 1882.0,349.5 C1883.1,355.0 1885.3,364.9 1886.0,368.0"/>
</g>
<g stroke="#000" stroke-width="8" fill="none" stroke-linecap="butt">
<rect x="337.2" y="73.6" width="1546.2" height="1244.6"/>
<line x1="311.2" y1="1318.2" x2="337.2" y2="1318.2"/>
<line x1="324.0" y1="1193.7" x2="337.2" y2="1193.7"/>
<line x1="311.2" y1="1069.3" x2="337.2" y2="1069.3"/>
<line x1="324.0" y1="944.8" x2="337.2" y2="944.8"/>
<line x1="311.2" y1="820.4" x2="337.2" y2="820.4"/>
<line x1="324.0" y1="695.9" x2="337.2" y2="695.9"/>
<line x1="311.2" y1="571.4" x2="337.2" y2="571.4"/>
<line x1="324.0" y1="447.0" x2="337.2" y2="447.0"/>
<line x1="311.2" y1="322.5" x2="337.2" y2="322.5"/>
<line x1="324.0" y1="198.1" x2="337.2" y2="198.1"/>
<line x1="311.2" y1="73.6" x2="337.2" y2="73.6"/>
<line x1="356.5" y1="1318.2" x2="356.5" y2="1329.7"/>
<line x1="453.2" y1="1318.2" x2="453.2" y2="1341.2"/>
<line x1="549.8" y1="1318.2" x2="549.8" y2="1329.7"/>
<line x1="646.4" y1="1318.2" x2="646.4" y2="1341.2"/>
<line x1="743.1" y1="1318.2" x2="743.1" y2="1329.7"/>
<line x1="839.7" y1="1318.2" x2="839.7" y2="1341.2"/>
<line x1="936.4" y1="1318.2" x2="936.4" y2="1329.7"/>
<line x1="1033.0" y1="1318.2" x2="1033.0" y2="1341.2"/>
<line x1="1129.6" y1="1318.2" x2="1129.6" y2="1329.7"/>
<line x1="1226.3" y1="1318.2" x2="1226.3" y2="1341.2"/>
<line x1="1322.9" y1="1318.2" x2="1322.9" y2="1329.7"/>
<line x1="1419.5" y1="1318.2" x2="1419.5" y2="1341.2"/>
<line x1="1516.2" y1="1318.2" x2="1516.2" y2="1329.7"/>
<line x1="1612.8" y1="1318.2" x2="1612.8" y2="1341.2"/>
<line x1="1709.5" y1="1318.2" x2="1709.5" y2="1329.7"/>
<line x1="1806.1" y1="1318.2" x2="1806.1" y2="1341.2"/>
</g>
<text class="tick" text-anchor="end" x="294" y="1349.7">0.0</text>
<text class="tick" text-anchor="end" x="294" y="1100.8">0.2</text>
<text class="tick" text-anchor="end" x="294" y="851.9">0.4</text>
<text class="tick" text-anchor="end" x="294" y="602.9">0.6</text>
<text class="tick" text-anchor="end" x="294" y="354.0">0.8</text>
<text class="tick" text-anchor="end" x="294" y="105.1">1.0</text>
<text class="tick" text-anchor="middle" x="451.7" y="1442">0.5</text>
<text class="tick" text-anchor="middle" x="644.9" y="1442">1.0</text>
<text class="tick" text-anchor="middle" x="838.2" y="1442">1.5</text>
<text class="tick" text-anchor="middle" x="1031.5" y="1442">2.0</text>
<text class="tick" text-anchor="middle" x="1224.8" y="1442">2.5</text>
<text class="tick" text-anchor="middle" x="1418.0" y="1442">3.0</text>
<text class="tick" text-anchor="middle" x="1611.3" y="1442">3.5</text>
<text class="tick" text-anchor="middle" x="1804.6" y="1442">4.0</text>
<rect x="150.80" y="93.98" width="19.23" height="12.52" fill="#ffffff"/><rect x="185.11" y="93.98" width="17.88" height="12.52" fill="#ffffff"/>
<rect x="576.11" y="1430.88" width="19.23" height="12.52" fill="#ffffff"/><rect x="610.42" y="1430.88" width="17.88" height="12.52" fill="#ffffff"/>
<rect x="769.38" y="1430.88" width="19.23" height="12.52" fill="#ffffff"/><rect x="803.70" y="1430.88" width="17.88" height="12.52" fill="#ffffff"/>
<text class="title" text-anchor="middle" x="1110.5" y="1525">wavelength(μm)</text>
<text class="title" text-anchor="middle" transform="translate(112.4,694.5) rotate(-90)">Absorption</text>
<line x1="514" y1="736" x2="667.5" y2="736" stroke="#00a85e" stroke-width="9"/>
<text class="leg" x="681" y="757.4">SiO<tspan class="sub" dy="18">2</tspan></text>
<line x1="514" y1="832.4" x2="667.5" y2="832.4" stroke="#555555" stroke-width="9"/>
<text class="leg" x="679" y="854.1">ZnO</text>
<line x1="514" y1="913.4" x2="667.5" y2="913.4" stroke="#ff4040" stroke-width="9"/>
<text class="leg" x="680" y="935.9">Au</text>
<line x1="514" y1="995.1" x2="667.5" y2="995.1" stroke="#0068e0" stroke-width="9"/>
<text class="leg" x="682" y="1017.4">TiO<tspan class="sub" dy="18">2</tspan></text>
</svg>
</body></html>
